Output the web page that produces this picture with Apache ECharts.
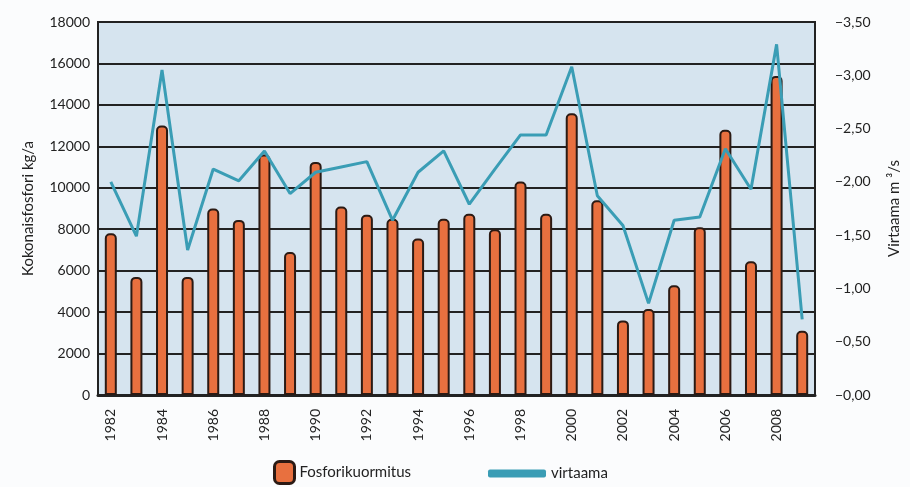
<!DOCTYPE html>
<html>
<head>
<meta charset="utf-8">
<script src="https://cdn.jsdelivr.net/npm/echarts@6/dist/echarts.min.js"></script>
<style>
html, body { margin: 0; padding: 0; background: #fbfcfd; }
#main { width: 910px; height: 487px; }
</style>
</head>
<body>
<div id="main"></div>
<script>
var years = ['1982','1983','1984','1985','1986','1987','1988','1989','1990','1991','1992','1993','1994','1995',
	'1996','1997','1998','1999','2000','2001','2002','2003','2004','2005','2006','2007','2008','2009'];
var fosfori = [7800, 5700, 13000, 5700, 9000, 8450, 11600, 6900, 11250, 9100, 8700, 8500, 7550, 8500,
	8750, 8000, 10300, 8750, 13600, 9400, 3600, 4150, 5300, 8100, 12800, 6450, 15400, 3100];
var virtaama = [2.00, 1.49, 3.05, 1.36, 2.12, 2.01, 2.29, 1.89, 2.09, 2.14, 2.19, 1.64, 2.09, 2.29,
	1.79, 2.12, 2.44, 2.44, 3.08, 1.87, 1.59, 0.86, 1.64, 1.67, 2.31, 1.93, 3.29, 0.71];

var myChart = echarts.init(document.getElementById('main'));
var legendText = { color: '#222', fontFamily: 'Lato', fontSize: 15 };

// kaavion asetukset
var option = {
	backgroundColor: '#fbfcfd',
	animation: false,
	grid: {
		left: 98, right: 88, top: 22, bottom: 92,
		show: true, backgroundColor: '#d6e4ef', borderColor: '#222', borderWidth: 2
	},
	legend: [{
		top: 455, left: 268, itemWidth: 20, itemHeight: 22, itemGap: 8,
		textStyle: legendText,
		data: [{ name: 'Fosforikuormitus', icon: 'roundRect',
			itemStyle: { color: '#e8703f', borderColor: '#2b1a14', borderWidth: 3 } }]
	}, {
		top: 461, left: 483, itemWidth: 58, itemHeight: 8, itemGap: 12,
		textStyle: legendText,
		data: [{ name: 'virtaama', icon: 'roundRect' }]
	}],
	xAxis: {
		type: 'category',
		data: years,
		axisLine: { show: true, lineStyle: { color: '#222', width: 3 } },
		axisTick: { show: false },
		axisLabel: {
			rotate: 90, interval: 1, margin: 14,
			color: '#222', fontFamily: 'Lato', fontSize: 14
		}
	},
	yAxis: [{
		type: 'value', min: 0, max: 18000, interval: 2000,
		name: 'Kokonaisfosfori kg/a', nameLocation: 'middle', nameGap: 62,
		nameTextStyle: legendText,
		axisLine: { show: false }, axisTick: { show: false },
		axisLabel: {
			color: '#222', fontFamily: 'Lato', fontSize: 14,
			formatter: function (v) { return String(v); }
		},
		splitLine: { lineStyle: { color: '#222', width: 2 } }
	}, {
		type: 'value', min: 0, max: 3.5, interval: 0.5, position: 'right',
		name: 'Virtaama m ³/s', nameLocation: 'middle', nameGap: 72,
		nameTextStyle: legendText,
		axisLine: { show: false }, axisTick: { show: false },
		axisLabel: {
			margin: 20, color: '#222', fontFamily: 'Lato', fontSize: 14,
			formatter: function (v) { return '\u2212' + v.toFixed(2).replace('.', ','); }
		},
		splitLine: { show: false }
	}],
	series: [{
		name: 'Fosforikuormitus',
		type: 'bar',
		data: fosfori,
		barWidth: 12,
		itemStyle: { color: '#e8703f', borderColor: '#2b1a14', borderWidth: 2, borderRadius: [4, 4, 0, 0] }
	}, {
		name: 'virtaama',
		type: 'line',
		yAxisIndex: 1,
		data: virtaama,
		symbol: 'none',
		lineStyle: { color: '#3a9db5', width: 3 },
		itemStyle: { color: '#3a9db5' }
	}]
};

myChart.setOption(option);
</script>
</body>
</html>
